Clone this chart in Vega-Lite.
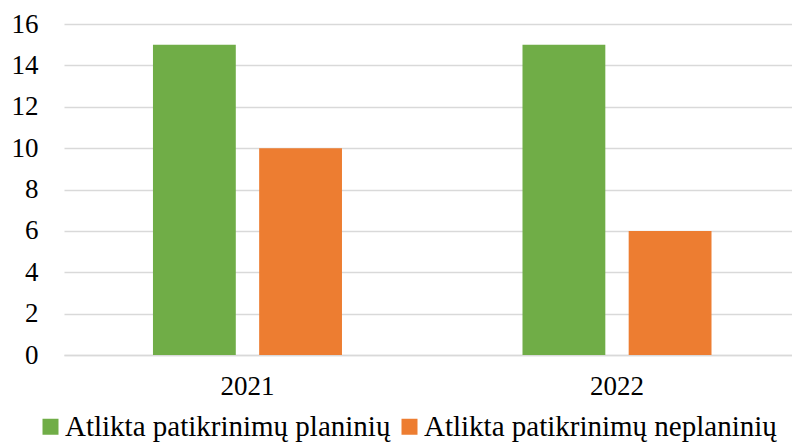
{
  "$schema": "https://vega.github.io/schema/vega-lite/v6.json",
  "autosize": {"type": "none"},
  "width": 728,
  "height": 331,
  "padding": {"left": 64, "top": 24, "right": 0, "bottom": 87},
  "background": "white",
  "config": {
    "view": {"stroke": null},
    "font": "Liberation Serif",
    "axis": {"labelFont": "Liberation Serif", "labelFontSize": 27, "labelColor": "#000000"},
    "legend": {"labelFont": "Liberation Serif", "labelFontSize": 29, "labelColor": "#000000"}
  },
  "data": {"values": [
    {"year": "2021", "series": "Atlikta patikrinimų planinių", "value": 15},
    {"year": "2021", "series": "Atlikta patikrinimų neplaninių", "value": 10},
    {"year": "2022", "series": "Atlikta patikrinimų planinių", "value": 15},
    {"year": "2022", "series": "Atlikta patikrinimų neplaninių", "value": 6}
  ]},
  "mark": {"type": "bar"},
  "encoding": {
    "x": {"field": "year", "type": "nominal", "title": null,
      "scale": {"paddingInner": 0.4885, "paddingOuter": 0.2293, "align": 0.525},
      "axis": {"labelAngle": 0, "ticks": false, "domain": true, "domainColor": "#D9D9D9", "domainWidth": 1.5, "labelPadding": 18}},
    "xOffset": {"field": "series", "type": "nominal",
      "sort": ["Atlikta patikrinimų planinių", "Atlikta patikrinimų neplaninių"],
      "scale": {"paddingInner": 0.22, "paddingOuter": 0}},
    "y": {"field": "value", "type": "quantitative", "title": null,
      "scale": {"domain": [0, 16]},
      "axis": {"values": [0, 2, 4, 6, 8, 10, 12, 14, 16], "ticks": false, "domain": false, "gridColor": "#D9D9D9", "gridWidth": 1.5, "labelPadding": 26}},
    "color": {"field": "series", "type": "nominal",
      "sort": ["Atlikta patikrinimų planinių", "Atlikta patikrinimų neplaninių"],
      "scale": {"domain": ["Atlikta patikrinimų planinių", "Atlikta patikrinimų neplaninių"], "range": ["#70AD47", "#ED7D31"]},
      "legend": {"orient": "none", "legendX": -28, "legendY": 388, "direction": "horizontal", "title": null, "padding": 0, "symbolType": "square", "symbolSize": 256, "symbolStrokeWidth": 0, "columnPadding": 4, "labelOffset": 0, "labelLimit": 500}}
  }
}
